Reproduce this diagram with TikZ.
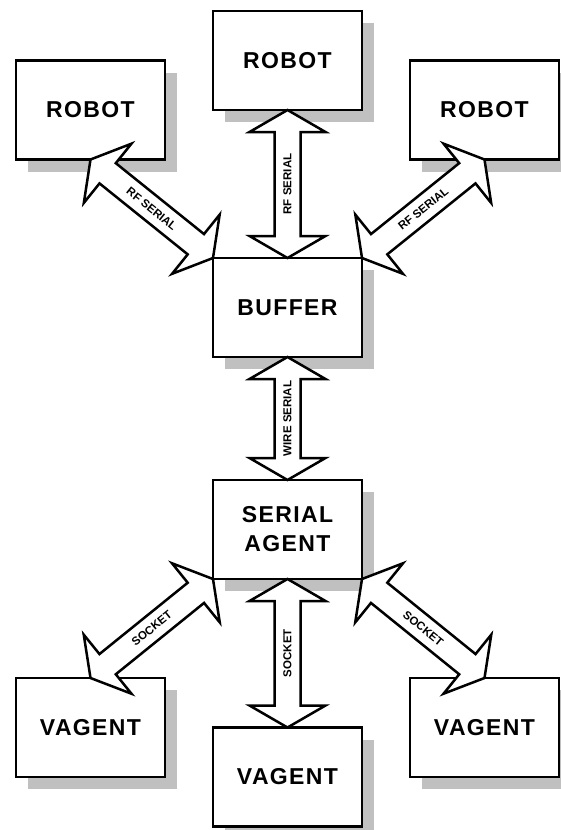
\documentclass[tikz,border=0pt]{standalone}
\usepackage{fontspec}
\setmainfont{Liberation Sans}
\newfontfamily\boxfont[LetterSpace=6]{Liberation Sans}
\usetikzlibrary{calc,shadows}
\definecolor{shadowgray}{RGB}{192,192,192}
\tikzset{
  box/.style={draw, fill=white, line width=2.7pt, minimum width=149pt,
    minimum height=99pt, inner sep=0pt, outer sep=0pt, align=center,
    font=\boxfont\fontsize{23}{29}\selectfont\bfseries,
    drop shadow={shadow xshift=12pt, shadow yshift=-12pt, fill=shadowgray, opacity=1}},
  arr/.style={draw, fill=white, line width=2.5pt, line join=miter},
  lbl/.style={font=\fontsize{11.5}{14}\selectfont\bfseries, inner sep=0pt},
}
\newcommand\mydblarrow[2]{%
  \coordinate (n1) at ($(#1)!22pt!(#2)$);
  \coordinate (n2) at ($(#2)!22pt!(#1)$);
  \draw[arr] (#1) -- ($(n1)!38pt!90:(#2)$) -- ($(n1)!13pt!90:(#2)$)
    -- ($(n2)!13pt!-90:(#1)$) -- ($(n2)!38pt!-90:(#1)$) -- (#2)
    -- ($(n2)!38pt!90:(#1)$) -- ($(n2)!13pt!90:(#1)$)
    -- ($(n1)!13pt!-90:(#2)$) -- ($(n1)!38pt!-90:(#2)$) -- cycle;
}
\begin{document}
\begin{tikzpicture}[x=1pt,y=-1pt]
\useasboundingbox (0,0) rectangle (560,830);
% boxes
\node[box] (robotL) at (90.5,110) {ROBOT};
\node[box] (robotT) at (287.5,60.5) {ROBOT};
\node[box] (robotR) at (484.5,110) {ROBOT};
\node[box] (buffer) at (287.5,307.5) {BUFFER};
\node[box] (serial) at (287.5,529.5) {SERIAL\\AGENT};
\node[box] (vagentL) at (90.5,727.5) {VAGENT};
\node[box] (vagentC) at (287.5,777) {VAGENT};
\node[box] (vagentR) at (484.5,727.5) {VAGENT};
% arrows
\mydblarrow{robotL.south}{buffer.north west}
\mydblarrow{robotT.south}{buffer.north}
\mydblarrow{robotR.south}{buffer.north east}
\mydblarrow{buffer.south}{serial.north}
\mydblarrow{serial.south west}{vagentL.north}
\mydblarrow{serial.south}{vagentC.north}
\mydblarrow{serial.south east}{vagentR.north}
% labels
\path (robotL.south) -- (buffer.north west) node[lbl, midway, sloped] (l1) {RF SERIAL};
\path (buffer.north) -- (robotT.south) node[lbl, midway, rotate=90] (l2) {RF SERIAL};
\path (buffer.north east) -- (robotR.south) node[lbl, midway, sloped] (l3) {RF SERIAL};
\path (serial.north) -- (buffer.south) node[lbl, midway, rotate=90] (l4) {WIRE SERIAL};
\path (vagentL.north) -- (serial.south west) node[lbl, midway, sloped] (l5) {SOCKET};
\path (vagentC.north) -- (serial.south) node[lbl, midway, rotate=90] (l6) {SOCKET};
\path (serial.south east) -- (vagentR.north) node[lbl, midway, sloped] (l7) {SOCKET};
\end{tikzpicture}
\end{document}
